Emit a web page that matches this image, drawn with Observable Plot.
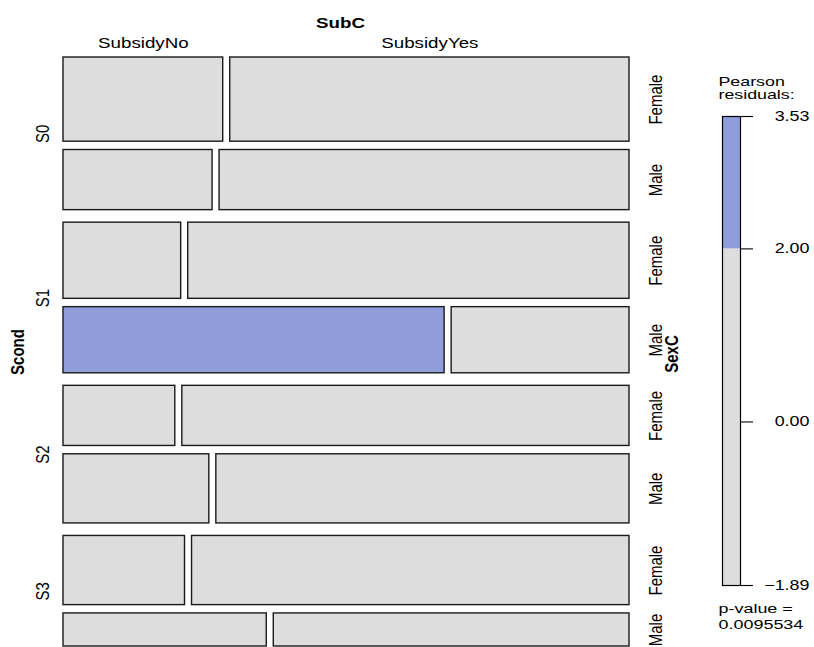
<!DOCTYPE html>
<html><head><meta charset="utf-8">
<script src="https://cdn.jsdelivr.net/npm/d3@7"></script>
<script src="https://cdn.jsdelivr.net/npm/@observablehq/plot@0.6"></script>
<style>
body{margin:0;background:#fff;}
#wrap{position:relative;width:814px;height:647px;overflow:hidden;background:#fff}
#wrap svg{position:absolute;top:0;overflow:visible}
</style></head><body><div id="wrap"></div>
<script>
// ---- data ----
const scondLevels = ["S0", "S1", "S2", "S3"];
const sexLevels = ["Female", "Male"];
const subcLevels = ["SubsidyNo", "SubsidyYes"];
// cell counts, row order: S0-Female, S0-Male, S1-Female, S1-Male, S2-Female, S2-Male, S3-Female, S3-Male
const countNo  = [24, 16, 16, 45, 12, 18, 15, 12];
const countYes = [60, 44, 60, 21, 48, 51, 54, 21];
// Pearson residuals (estimated)
const residNo  = [-0.08, -0.47, -1.00, 3.53, -1.27, 0.05, -0.32, -0.27];
const residYes = [0.41, -0.10, 0.29, -1.89, -0.11, 1.03, 1.30, -1.05];
const legendTicks = [3.53, 2.00, 0.00, -1.89];
const legendRange = [-1.89, 3.53];
const shadeCut = 2;
const pValue = "0.0095534";
const varNames = {row: "Scond", sub: "SexC", col: "SubC"};

// ---- layout computed from data ----
const gapScond = 12.5, gapSex = 8.3;   // spacing in count units
const gapSub = 0.0124;                 // spacing as fraction of width
const rows = [];
let acc = 0;
scondLevels.forEach((s, i) => {
  if (i > 0) acc += gapScond;
  sexLevels.forEach((g, j) => {
    if (j > 0) acc += gapSex;
    const k = i * 2 + j;
    const n = countNo[k] + countYes[k];
    rows.push({scond: s, sex: g, k, y1: acc, y2: acc + n});
    acc += n;
  });
});
const H = acc;
const tiles = [];
rows.forEach(r => {
  const n = countNo[r.k] + countYes[r.k];
  const p = countNo[r.k] / n * (1 - gapSub);
  tiles.push({...r, sub: subcLevels[0], x1: 0, x2: p, resid: residNo[r.k]});
  tiles.push({...r, sub: subcLevels[1], x1: p + gapSub, x2: 1, resid: residYes[r.k]});
});
const groups = scondLevels.map(s => {
  const rs = rows.filter(r => r.scond === s);
  return {scond: s, y: (rs[0].y1 + rs[rs.length - 1].y2) / 2};
});
const color = {type: "threshold", domain: [shadeCut], range: ["#dddddd", "#8f9ddb"]};
const font = "Liberation Sans, Arial, Helvetica, sans-serif";

const main = Plot.plot({
  width: 814, height: 647,
  marginLeft: 63, marginRight: 185, marginTop: 57, marginBottom: 1,
  x: {domain: [0, 1], axis: null},
  y: {domain: [0, H], reverse: true, axis: null},
  color,
  style: {fontFamily: font, fontSize: "15px", color: "#000", background: "transparent"},
  marks: [
    Plot.rect(tiles, {x1: "x1", x2: "x2", y1: "y1", y2: "y2", fill: "resid", stroke: "#1a1a1a", strokeWidth: 1.4}),
    Plot.text([varNames.col], {text: d => d, frameAnchor: "top", dx: -6, dy: -40, fontWeight: "bold", fontSize: 15}),
    Plot.text(tiles.filter(t => t.k === 0), {x: d => (d.x1 + d.x2) / 2, text: "sub", frameAnchor: "top", dy: -20, fontSize: 15}),
    Plot.text(groups, {y: "y", text: "scond", frameAnchor: "left", dx: -21, rotate: -90, textAnchor: "middle", lineAnchor: "middle", fontSize: 15}),
    Plot.text([varNames.row], {text: d => d, frameAnchor: "left", dx: -46, rotate: -90, textAnchor: "middle", lineAnchor: "middle", fontWeight: "bold", fontSize: 15}),
    Plot.text(rows, {y: d => (d.y1 + d.y2) / 2, text: "sex", frameAnchor: "right", dx: 26, rotate: -90, textAnchor: "middle", lineAnchor: "middle", fontSize: 15}),
    Plot.text([varNames.sub], {text: d => d, frameAnchor: "right", dx: 42, dy: 2, rotate: -90, textAnchor: "middle", lineAnchor: "middle", fontWeight: "bold", fontSize: 15})
  ]
});

const segments = [
  {lo: legendRange[0], hi: shadeCut},
  {lo: shadeCut, hi: legendRange[1]}
];
const fmt = v => (v < 0 ? "\u2212" : "") + Math.abs(v).toFixed(2);
const leg = Plot.plot({
  width: 124, height: 647,
  marginLeft: 32, marginRight: 74, marginTop: 116, marginBottom: 62,
  x: {domain: [0, 1], axis: null},
  y: {domain: legendRange, axis: null},
  color,
  style: {fontFamily: font, fontSize: "14px", color: "#000", background: "transparent"},
  marks: [
    Plot.rect(segments, {x1: 0, x2: 1, y1: "lo", y2: "hi", fill: "lo"}),
    Plot.frame({stroke: "#000", strokeWidth: 1.2}),
    Plot.ruleY(legendTicks, {y: d => d, x1: 1, x2: 1.72, stroke: "#000", strokeWidth: 1.1}),
    Plot.text(legendTicks, {y: d => d, text: fmt, frameAnchor: "right", dx: 69, textAnchor: "end", fontSize: 14}),
    Plot.text(["Pearson\nresiduals:"], {text: d => d, frameAnchor: "top-left", dx: -4, dy: -28.5, textAnchor: "start", lineAnchor: "middle", lineHeight: 1.0, fontSize: 13}),
    Plot.text(["p-value =\n" + pValue], {text: d => d, frameAnchor: "bottom-left", dx: -4, dy: 30, textAnchor: "start", lineAnchor: "middle", lineHeight: 1.2, fontSize: 13.5})
  ]
});

const wrap = document.getElementById("wrap");
main.style.left = "0px";
leg.style.left = "690px";
wrap.appendChild(main);
wrap.appendChild(leg);

// the reference glyphs are horizontally stretched; mimic that
function stretch(svg, k) {
  svg.querySelectorAll("text").forEach(t => {
    const fs = parseFloat(t.closest("[font-size]")?.getAttribute("font-size")) || 14;
    const kk = typeof k === "function" ? k(fs) : k;
    let tr = t.getAttribute("transform") || "";
    const m = tr.match(/^\s*translate\(([^)]*)\)(.*)$/);
    if (m) tr = `translate(${m[1]}) scale(${kk},1)${m[2]}`;
    else tr = `scale(${kk},1) ${tr}`;
    t.setAttribute("transform", tr);
  });
}
stretch(main, 1.25);
stretch(leg, fs => fs < 13.2 ? 1.37 : fs < 13.8 ? 1.33 : 1.28);
</script>
</body></html>
